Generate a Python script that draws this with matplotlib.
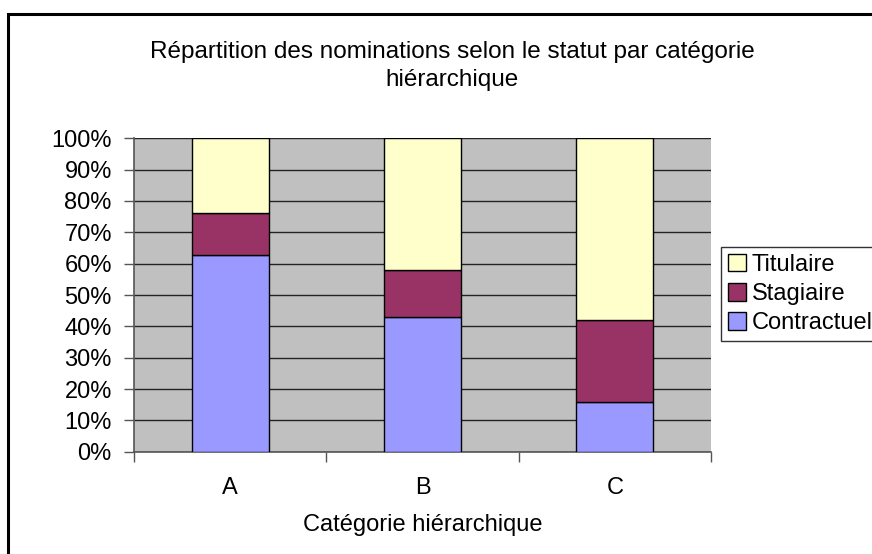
import matplotlib
matplotlib.use("Agg")
import matplotlib.pyplot as plt
import numpy as np
from matplotlib.patches import Rectangle, Patch

categories = ["A", "B", "C"]
contractuel = [62.7, 42.9, 15.9]
stagiaire = [13.5, 15.1, 26.1]
titulaire = [23.8, 42.0, 58.0]
series_names = ["Contractuel", "Stagiaire", "Titulaire"]
colors = ["#9999FF", "#993366", "#FFFFCC"]
yticks = [0, 10, 20, 30, 40, 50, 60, 70, 80, 90, 100]
ytick_labels = [f"{v}%" for v in yticks]

plt.rcParams['font.family'] = ['Liberation Sans', 'DejaVu Sans']
FS = 17

W, H = 872, 554
fig = plt.figure(figsize=(W/100, H/100), dpi=100)
fig.patch.set_facecolor("white")

# outer chart border (only left/top visible)
fig.patches.append(Rectangle((8/W, -0.05), 1.2, (H-14)/H + 0.05, transform=fig.transFigure,
                             fill=False, edgecolor="black", lw=2.2, zorder=0))

ax = fig.add_axes([134/W, (H-451.7)/H, (711-134)/W, (451.7-138.3)/H])
ax.set_facecolor("#C0C0C0")

x = np.arange(len(categories))
bottom = np.zeros(len(categories))
for vals, name, c in zip([contractuel, stagiaire, titulaire], series_names, colors):
    ax.bar(x, vals, width=0.4, bottom=bottom, color=c, edgecolor="black", linewidth=1.0, zorder=3, label=name)
    bottom += np.array(vals)

ax.set_xlim(-0.5, 2.5)
ax.set_ylim(0, 100)
ax.set_yticks(yticks)
ax.set_yticklabels(ytick_labels, fontsize=FS)
ax.yaxis.grid(True, color="#222222", linewidth=1.0, zorder=1)
ax.set_axisbelow(True)

ax.set_xticks([-0.5, 0.5, 1.5, 2.5])
ax.set_xticklabels([])
ax.set_xticks(x, minor=True)
ax.set_xticklabels(categories, minor=True, fontsize=FS)
ax.tick_params(axis="x", which="minor", length=0, pad=18)
ax.tick_params(axis="x", which="major", length=7, width=1, color="#555555", direction="out")
ax.tick_params(axis="y", length=7, width=1, color="#555555", direction="out", pad=9)

for s in ["top", "right"]:
    ax.spines[s].set_visible(False)
for s in ["left", "bottom"]:
    ax.spines[s].set_color("#555555")
    ax.spines[s].set_linewidth(1.2)

fig.text(452/W, 1 - 66/H, "Répartition des nominations selon le statut par catégorie\nhiérarchique",
         ha="center", va="center", fontsize=17.5, linespacing=1.32)
fig.text(422.5/W, 1 - 525/H, "Catégorie hiérarchique", ha="center", va="center", fontsize=FS)

leg_handles = [Patch(facecolor=c, edgecolor="black", linewidth=1.0) for c in colors[::-1]]
leg = fig.legend(leg_handles, series_names[::-1], loc="upper left",
                 bbox_to_anchor=(721/W, 1 - 247/H), bbox_transform=fig.transFigure,
                 fontsize=FS, frameon=True, fancybox=False, handlelength=0.75, handleheight=0.75,
                 handletextpad=0.25, borderpad=0.3, labelspacing=0.3, borderaxespad=0)
leg.get_frame().set_edgecolor("black")
leg.get_frame().set_linewidth(1.0)

fig.savefig("out.png", dpi=100)
